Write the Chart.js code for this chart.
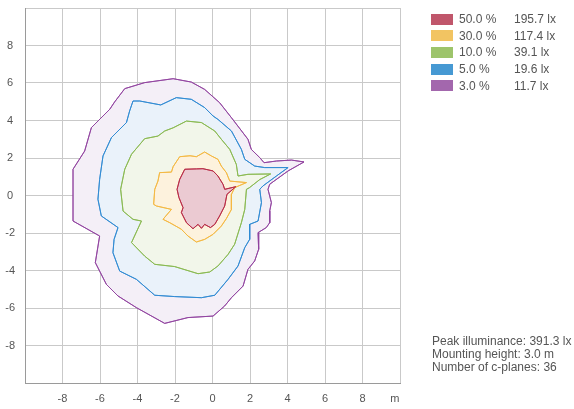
<!DOCTYPE html>
<html>
<head>
<meta charset="utf-8">
<script src="https://cdn.jsdelivr.net/npm/chart.js@4.4.1/dist/chart.umd.min.js"></script>
<style>
  html, body { margin: 0; padding: 0; background: #fff; }
  #wrap { position: relative; width: 574px; height: 409px; font-family: "Liberation Sans", Arial, sans-serif; color: #555; }
  #plot { position: absolute; left: 0; top: 0; }
  #legend { position: absolute; left: 431px; top: 11px; font-size: 12px; }
  .row { display: flex; align-items: center; height: 16.6px; }
  .sw { width: 22px; height: 11px; margin-right: 6px; }
  .pct { width: 55px; }
  #info { position: absolute; left: 432px; top: 334.5px; font-size: 12px; line-height: 13.4px; }
</style>
</head>
<body>
<div id="wrap">
  <canvas id="plot" width="574" height="409"></canvas>
  <div id="legend"></div>
  <div id="info"></div>
</div>
<script>
// Isolux contours, [x, y] in metres, traced from the luminaire's centre
const iso50 = [[-1.48,1.40],[-0.85,1.42],[-0.51,1.43],[0.03,1.31],[0.29,1.04],[0.56,0.60],[0.65,0.33],[1.24,0.47],[0.77,0.06],[0.65,-0.56],[0.38,-1.09],[0.12,-1.54],[-0.11,-1.71],[-0.42,-1.54],[-0.59,-1.75],[-0.77,-1.54],[-1.04,-1.77],[-1.39,-1.45],[-1.66,-0.91],[-1.57,-0.65],[-1.79,-0.11],[-1.89,0.33],[-1.75,0.86]];
const iso30 = [[-1.75,2.07],[-1.20,2.12],[-0.86,2.07],[-0.42,2.32],[-0.06,2.11],[0.29,1.93],[0.47,1.57],[0.74,1.22],[0.92,0.77],[1.81,0.69],[1.18,0.42],[1.01,0.06],[1.01,-0.74],[0.74,-1.23],[0.47,-1.63],[0.03,-2.07],[-0.42,-2.34],[-0.86,-2.48],[-1.31,-2.16],[-1.66,-1.80],[-2.28,-1.45],[-2.64,-1.27],[-2.19,-0.74],[-2.99,-0.56],[-3.14,-0.47],[-3.08,0.33],[-2.91,0.77],[-2.82,1.22],[-2.19,1.25],[-2.10,1.54]];
const iso10 = [[-1.39,3.97],[-0.59,3.89],[0.12,3.44],[0.47,3.00],[0.92,2.46],[1.27,1.66],[1.36,1.04],[1.89,1.13],[3.10,1.15],[2.52,0.85],[1.96,0.41],[1.81,0.33],[1.72,-0.74],[1.54,-1.45],[1.18,-2.60],[0.83,-3.14],[0.29,-3.76],[-0.15,-4.08],[-0.77,-4.17],[-2.02,-3.79],[-3.08,-3.67],[-3.62,-3.23],[-4.32,-2.51],[-3.79,-1.36],[-4.24,-1.27],[-4.77,-0.83],[-4.90,0.33],[-4.68,1.40],[-4.32,2.20],[-3.62,3.03],[-2.91,3.17],[-2.55,3.44],[-2.10,3.61]];
const iso5 = [[-1.93,5.22],[-1.13,5.13],[-0.42,4.69],[0.03,4.24],[0.29,4.06],[1.01,3.44],[1.54,2.46],[1.72,1.93],[2.25,1.57],[2.78,1.49],[4.03,1.49],[3.41,1.04],[2.69,0.51],[2.52,0.33],[2.61,-0.38],[2.43,-1.36],[1.98,-1.54],[1.98,-2.34],[1.72,-2.78],[1.36,-3.76],[0.83,-4.47],[0.12,-5.32],[-0.59,-5.45],[-2.02,-5.39],[-3.08,-5.32],[-4.06,-4.47],[-4.95,-4.03],[-5.31,-3.05],[-5.25,-2.34],[-5.04,-1.71],[-5.93,-1.09],[-6.11,-0.20],[-6.02,0.86],[-5.84,2.11],[-5.39,3.09],[-4.59,3.89],[-4.42,4.51],[-4.24,5.04],[-3.88,5.04],[-2.76,4.83]];
const iso3 = [[-2.10,6.23],[-1.13,6.05],[-0.42,5.66],[0.38,4.95],[1.01,4.15],[1.89,3.00],[2.07,2.46],[2.52,2.02],[2.75,1.75],[3.41,1.84],[4.21,1.89],[4.88,1.79],[4.03,1.31],[3.05,0.60],[2.96,0.33],[3.14,-0.38],[3.05,-0.83],[3.05,-1.45],[2.87,-1.71],[2.43,-1.98],[2.46,-2.87],[2.25,-3.49],[1.89,-3.94],[1.63,-4.83],[1.01,-5.45],[0.65,-5.89],[0.03,-6.43],[-1.31,-6.51],[-2.55,-6.82],[-4.06,-5.98],[-5.04,-5.36],[-5.66,-4.74],[-6.25,-3.58],[-6.02,-2.16],[-7.44,-1.36],[-7.44,1.40],[-6.82,2.37],[-6.46,3.62],[-5.48,4.60],[-5.22,4.99],[-4.68,5.70],[-3.62,6.02]];

const levelLabels = ['50.0 %', '30.0 %', '10.0 %', '5.0 %', '3.0 %'];
const luxLabels = ['195.7 lx', '117.4 lx', '39.1 lx', '19.6 lx', '11.7 lx'];
const infoLines = ['Peak illuminance: 391.3 lx', 'Mounting height: 3.0 m', 'Number of c-planes: 36'];
const axisTicks = [-10, -8, -6, -4, -2, 0, 2, 4, 6, 8, 10];
const contours = [iso50, iso30, iso10, iso5, iso3];

// styling
const lineColors = ['#b82a45', '#f4b842', '#89b950', '#2f8ad2', '#91439f'];
const areaColors = ['#ebcad2', '#fdf2dd', '#f2f6ea', '#eaf2fa', '#f4eff7'];
const swatchColors = ['#c0566b', '#f2c462', '#9dc46b', '#4699d3', '#a367ad'];
const FONT = '"Liberation Sans", Arial, sans-serif';
const UNIT_POS = 9.72; // where the "m" unit label sits on the x axis

const closed = pts => pts.concat([pts[0]]).map(([x, y]) => ({ x, y }));

// contour strokes go back on top after the grid has been laid over the fills
const strokeOnTop = {
  id: 'strokeOnTop',
  afterDraw(chart) {
    const metas = chart.getSortedVisibleDatasetMetas();
    for (let i = metas.length - 1; i >= 0; i--) {
      metas[i].dataset.draw(chart.ctx, chart.chartArea);
    }
  }
};

const gridColor = '#c9c9c9';

new Chart(document.getElementById('plot'), {
  type: 'scatter',
  data: {
    datasets: contours.map((pts, i) => ({
      label: levelLabels[i],
      data: closed(pts),
      showLine: true,
      fill: 'shape',
      tension: 0,
      borderColor: lineColors[i],
      backgroundColor: areaColors[i],
      borderWidth: 0.9,
      pointRadius: 0,
      pointHoverRadius: 0
    }))
  },
  options: {
    responsive: false,
    animation: false,
    devicePixelRatio: 1,
    layout: { padding: { top: 8, right: 174, left: 0, bottom: 0 } },
    plugins: { legend: { display: false }, tooltip: { enabled: false } },
    scales: {
      x: {
        type: 'linear', min: -10, max: 10, z: 1,
        afterBuildTicks: s => {
          s.ticks = axisTicks.concat([UNIT_POS]).sort((a, b) => a - b).map(v => ({ value: v }));
        },
        afterFit: s => { s.height = 26; s.paddingLeft = 0; s.paddingRight = 0; },
        ticks: {
          autoSkip: false, maxRotation: 0, padding: 9, color: '#555',
          font: { size: 11, family: FONT },
          callback: v => (v === UNIT_POS ? 'm' : (Math.abs(v) === 10 ? '' : v))
        },
        grid: {
          drawTicks: false, lineWidth: 1,
          color: c => (c.tick && c.tick.value === UNIT_POS ? 'rgba(0,0,0,0)' : gridColor)
        },
        border: { color: '#9a9a9a', width: 1 }
      },
      y: {
        type: 'linear', min: -10, max: 10, z: 1,
        afterBuildTicks: s => { s.ticks = axisTicks.map(v => ({ value: v })); },
        afterFit: s => { s.width = 25; s.paddingTop = 0; s.paddingBottom = 0; },
        ticks: {
          autoSkip: false, padding: 10, crossAlign: 'center', color: '#555',
          font: { size: 11, family: FONT },
          callback: v => (Math.abs(v) === 10 ? '' : v)
        },
        grid: { drawTicks: false, lineWidth: 1, color: gridColor },
        border: { color: '#9a9a9a', width: 1 }
      }
    }
  },
  plugins: [strokeOnTop]
});

// legend and summary text
const legend = document.getElementById('legend');
levelLabels.forEach((lvl, i) => {
  const row = document.createElement('div');
  row.className = 'row';
  row.innerHTML = '<span class="sw" style="background:' + swatchColors[i] + '"></span>' +
    '<span class="pct">' + lvl + '</span><span>' + luxLabels[i] + '</span>';
  legend.appendChild(row);
});
document.getElementById('info').innerHTML = infoLines.map(t => '<div>' + t + '</div>').join('');
</script>
</body>
</html>
